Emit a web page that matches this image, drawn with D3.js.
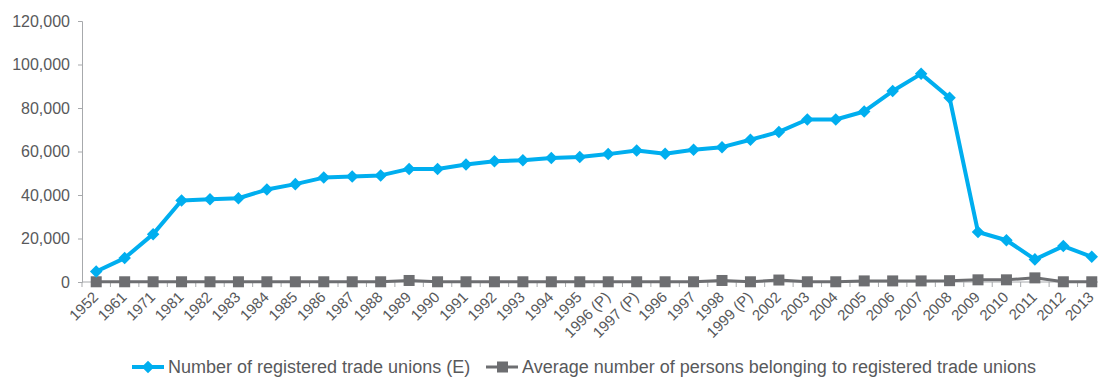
<!DOCTYPE html>
<html>
<head>
<meta charset="utf-8">
<script src="https://cdn.jsdelivr.net/npm/d3@7"></script>
<style>
  body { margin: 0; background: #fff; }
  svg text { font-family: "Liberation Sans", Arial, sans-serif; fill: #58595b; }
  .axis path, .axis line { stroke: #a7a9ac; }
</style>
</head>
<body>
<div id="chart"></div>
<script>
'use strict';

var years = ['1952','1961','1971','1981','1982','1983','1984','1985','1986','1987','1988','1989','1990',
  '1991','1992','1993','1994','1995','1996 (P)','1997 (P)','1996','1997','1998','1999 (P)','2002','2003',
  '2004','2005','2006','2007','2008','2009','2010','2011','2012','2013'];

var unions = [4800, 11000, 22000, 37500, 38000, 38500, 42500, 45000, 48000, 48500, 49000, 52000, 52000,
  54000, 55500, 56000, 57000, 57500, 58800, 60500, 59000, 60800, 62000, 65400, 69000, 74700,
  74700, 78400, 87800, 95700, 84700, 23000, 19200, 10400, 16500, 11600];

var persons = [100, 100, 100, 100, 100, 100, 100, 100, 100, 100, 100, 700, 100,
  100, 100, 100, 100, 100, 100, 100, 100, 100, 700, 100, 900, 100,
  100, 500, 500, 500, 600, 1000, 1000, 1900, 100, 100];

var yTicks = [0, 20000, 40000, 60000, 80000, 100000, 120000];

var seriesNames = ['Number of registered trade unions (E)', 'Average number of persons belonging to registered trade unions'];
var colors = ['#00aeef', '#6d6e71'];

var W = 1098, H = 377;
var margin = {top: 21, right: 0, bottom: 95, left: 82};
var width = 1106 - margin.left;
var height = 282 - margin.top;

var svg = d3.select('#chart').append('svg')
  .attr('width', W)
  .attr('height', H)
  .append('g')
    .attr('transform', 'translate(' + margin.left + ',' + margin.top + ')');

var x = d3.scaleBand().domain(d3.range(years.length)).range([0, width]);
var y = d3.scaleLinear().domain([0, 120000]).range([height, 0]);

// y axis
var yAxis = d3.axisLeft(y).tickValues(yTicks).tickSize(4).tickPadding(8)
  .tickFormat(d3.format(','));
var gy = svg.append('g').attr('class', 'axis y').call(yAxis);
gy.selectAll('text').style('font-size', '16px');

// x axis: ticks at band edges, labels at band centers
var gx = svg.append('g').attr('class', 'axis x').attr('transform', 'translate(0,' + height + ')');
gx.append('line').attr('x1', 0).attr('x2', width).attr('stroke', '#a7a9ac');
gx.selectAll('line.tk').data(d3.range(years.length + 1)).enter().append('line')
  .attr('class', 'tk')
  .attr('x1', function(d){ return d * x.step(); })
  .attr('x2', function(d){ return d * x.step(); })
  .attr('y1', 0).attr('y2', 5)
  .attr('stroke', '#a7a9ac');
gx.selectAll('text').data(years).enter().append('text')
  .attr('transform', function(d, i){
    return 'translate(' + (x(i) + x.bandwidth() / 2 + 3) + ',16) rotate(-45)';
  })
  .attr('text-anchor', 'end')
  .style('font-size', '15px')
  .text(function(d){ return d; });

var line = d3.line()
  .x(function(d, i){ return x(i) + x.bandwidth() / 2; })
  .y(function(d){ return y(d); });

// gray series
svg.append('path').datum(persons)
  .attr('fill', 'none').attr('stroke', colors[1]).attr('stroke-width', 3)
  .attr('d', line);
svg.selectAll('rect.pt').data(persons).enter().append('rect')
  .attr('class', 'pt')
  .attr('x', function(d, i){ return x(i) + x.bandwidth() / 2 - 5.5; })
  .attr('y', function(d){ return y(d) - 5.5; })
  .attr('width', 11).attr('height', 11)
  .attr('fill', colors[1]);

// blue series
svg.append('path').datum(unions)
  .attr('fill', 'none').attr('stroke', colors[0]).attr('stroke-width', 4)
  .attr('stroke-linejoin', 'round')
  .attr('d', line);
svg.selectAll('path.dm').data(unions).enter().append('path')
  .attr('class', 'dm')
  .attr('d', d3.symbol().type(d3.symbolDiamond2).size(100))
  .attr('transform', function(d, i){
    return 'translate(' + (x(i) + x.bandwidth() / 2) + ',' + y(d) + ')';
  })
  .attr('fill', colors[0]);

// legend
var legend = d3.select('svg').append('g').attr('transform', 'translate(0,367)');
var legX = [132, 486];
seriesNames.forEach(function(name, i){
  var g = legend.append('g').attr('transform', 'translate(' + legX[i] + ',0)');
  g.append('line').attr('x1', 0).attr('x2', 32).attr('y1', 0).attr('y2', 0)
    .attr('stroke', colors[i]).attr('stroke-width', i === 0 ? 4 : 3);
  if (i === 0) {
    g.append('path').attr('d', d3.symbol().type(d3.symbolDiamond2).size(100))
      .attr('transform', 'translate(16,0)').attr('fill', colors[i]);
  } else {
    g.append('rect').attr('x', 11).attr('y', -5.5).attr('width', 11).attr('height', 11)
      .attr('fill', colors[i]);
  }
  g.append('text').attr('x', 36).attr('dy', '0.35em')
    .style('font-size', '18px')
    .text(name);
});
</script>
</body>
</html>
